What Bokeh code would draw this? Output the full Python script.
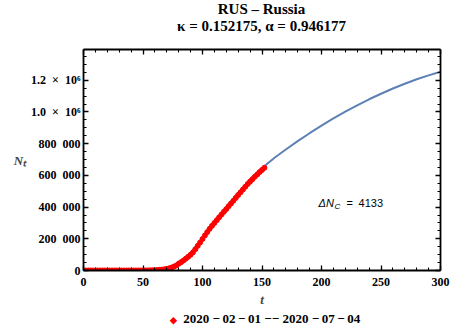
from bokeh.plotting import figure
from bokeh.models import (FixedTicker, LinearAxis, Label, Range1d, Div)
from bokeh.layouts import column
from bokeh.embed import file_html
from bokeh.resources import INLINE

# ---------------- data ----------------
title_line1 = "RUS \u2013 Russia"
title_line2 = "\u03ba = 0.152175,  \u03b1 = 0.946177"
delta_nc = 4133
legend_label = ("2020 \u2212\u200902\u2009\u2212\u200901 \u2212\u2212 "
                "2020 \u2212\u200907\u2009\u2212\u200904")

# observed cumulative cases (every 2nd day)
obs_t = list(range(0, 153, 2))
obs_n = [2, 2, 2, 2, 2, 2, 2, 2, 2, 2, 2, 2, 2, 2, 2, 2,
         3, 3, 3, 7, 10, 20, 45, 93, 147, 253, 367, 495, 840, 1264, 1836,
         2777, 4149, 5389, 7497, 10131, 13584, 18328, 24490, 32008, 42853,
         52763, 62773, 74588, 87147, 99399, 114431, 134687, 155370, 177160,
         198676, 221344, 242271, 262843, 281752, 299941, 317554, 335882,
         353427, 370680, 387623, 405843, 423186, 440538, 458102, 476658,
         493023, 510761, 528267, 545458, 561091, 576162, 591465, 606043,
         620794, 634437, 647849]

# fitted model curve
fit_t = [0, 10, 20, 30, 40, 50, 60, 70, 80, 90, 100, 110, 120, 130, 140, 150,
         160, 170, 180, 190, 200, 210, 220, 230, 240, 250, 260, 270, 280, 290, 300]
fit_n = [0, 0, 0, 5, 50, 300, 1800, 9000, 40000, 110000, 205000, 305000, 400000,
         490000, 575000, 645000, 708000, 763000, 816000, 866000, 914000, 959000,
         1002000, 1042000, 1080000, 1115000, 1148000, 1178000, 1206000, 1231000,
         1254000]

x_ticks = [0, 50, 100, 150, 200, 250, 300]
y_ticks = [0, 200000, 400000, 600000, 800000, 1000000, 1200000]
y_tick_labels = ["0", "200\u2002000", "400\u2002000", "600\u2002000", "800\u2002000",
                 "1.0\u2002\u00d7\u200210\u2076", "1.2\u2002\u00d7\u200210\u2076"]

SERIF = "Liberation Serif"
SANS = "Liberation Sans"

p = figure(width=450, height=275, x_range=Range1d(0, 300), y_range=Range1d(0, 1394000),
           output_backend="svg", toolbar_location=None,
           min_border_left=83, min_border_right=10, min_border_top=13, min_border_bottom=41,
           x_axis_location=None, y_axis_location=None)
p.grid.visible = False
p.outline_line_color = None

xticker = FixedTicker(ticks=x_ticks, minor_ticks=list(range(0, 301, 10)))
yticker = FixedTicker(ticks=y_ticks, minor_ticks=list(range(0, 1400001, 50000)))


def style_axis(ax, labels=True):
    ax.axis_line_width = 1.8
    ax.axis_line_color = "black"
    ax.major_tick_in = 5
    ax.major_tick_out = 0
    ax.minor_tick_in = 3
    ax.minor_tick_out = 0
    ax.major_tick_line_width = 1.3
    ax.minor_tick_line_width = 1.1
    if labels:
        ax.major_label_text_font = SERIF
        ax.major_label_text_font_style = "bold"
        ax.major_label_text_font_size = "12px"
        ax.major_label_text_color = "black"
    else:
        ax.major_label_text_font_size = "0px"
        ax.major_label_standoff = 0


xaxis = LinearAxis(ticker=xticker, axis_label="t")
style_axis(xaxis)
xaxis.major_label_standoff = 7
xaxis.axis_label_text_font = SERIF
xaxis.axis_label_text_font_style = "bold italic"
xaxis.axis_label_text_font_size = "13px"
xaxis.axis_label_standoff = 3
p.add_layout(xaxis, "below")

yaxis = LinearAxis(ticker=yticker, axis_label="N\u209c")
style_axis(yaxis)
yaxis.major_label_overrides = {t: s for t, s in zip(y_ticks, y_tick_labels)}
yaxis.major_label_standoff = 3
yaxis.axis_label_orientation = "horizontal"
yaxis.axis_label_text_font = SERIF
yaxis.axis_label_text_font_style = "bold italic"
yaxis.axis_label_text_font_size = "13px"
yaxis.axis_label_standoff = 2
p.add_layout(yaxis, "left")

topaxis = LinearAxis(ticker=xticker)
style_axis(topaxis, labels=False)
topaxis.major_label_overrides = {t: "" for t in x_ticks}
p.add_layout(topaxis, "above")

rightaxis = LinearAxis(ticker=yticker)
style_axis(rightaxis, labels=False)
rightaxis.major_label_overrides = {t: "" for t in y_ticks}
p.add_layout(rightaxis, "right")

# model curve and observed points
p.line(fit_t, fit_n, line_color="#5E81B5", line_width=2)
p.scatter(obs_t, obs_n, marker="circle", size=5, color="#FF0000")

# annotation  ΔN_C = 4133
ann_x, ann_y = 197.5, 423000
p.add_layout(Label(x=ann_x, y=ann_y, text="\u0394N", text_font=SANS,
                   text_font_style="italic", text_font_size="11px",
                   text_baseline="middle", text_color="black"))
p.add_layout(Label(x=ann_x, y=ann_y, x_offset=16, y_offset=-3, text="C", text_font=SANS,
                   text_font_style="italic", text_font_size="8px",
                   text_baseline="middle", text_color="black"))
p.add_layout(Label(x=ann_x, y=ann_y, x_offset=28, text="=", text_font=SANS,
                   text_font_size="11px", text_baseline="middle", text_color="black"))
p.add_layout(Label(x=ann_x, y=ann_y, x_offset=40, text=str(delta_nc), text_font=SANS,
                   text_font_size="11px", text_baseline="middle", text_color="black"))

# two-line title above the chart
title_div = Div(
    text=('<div style="box-sizing:border-box;width:450px;padding-left:73px;padding-top:1px;'
          'text-align:center;font-family:\'Liberation Serif\';font-weight:bold;'
          'font-size:15px;line-height:17px;color:black;white-space:nowrap">'
          + title_line1 + '<br>' + title_line2 + '</div>'),
    width=450, height=36, margin=0)

# legend line below the chart
legend_div = Div(
    text=('<div style="box-sizing:border-box;width:450px;padding-left:80px;'
          'text-align:center;font-family:\'Liberation Serif\';font-weight:bold;'
          'font-size:13px;line-height:16px;color:black;white-space:nowrap">'
          '<span style="color:#FF0000;font-size:9px">\u25c6</span>&nbsp;&nbsp;'
          + legend_label + '</div>'),
    width=450, height=16, margin=0)

layout = column(title_div, p, legend_div, spacing=0)
open("out.html", "w").write(file_html(layout, INLINE))
